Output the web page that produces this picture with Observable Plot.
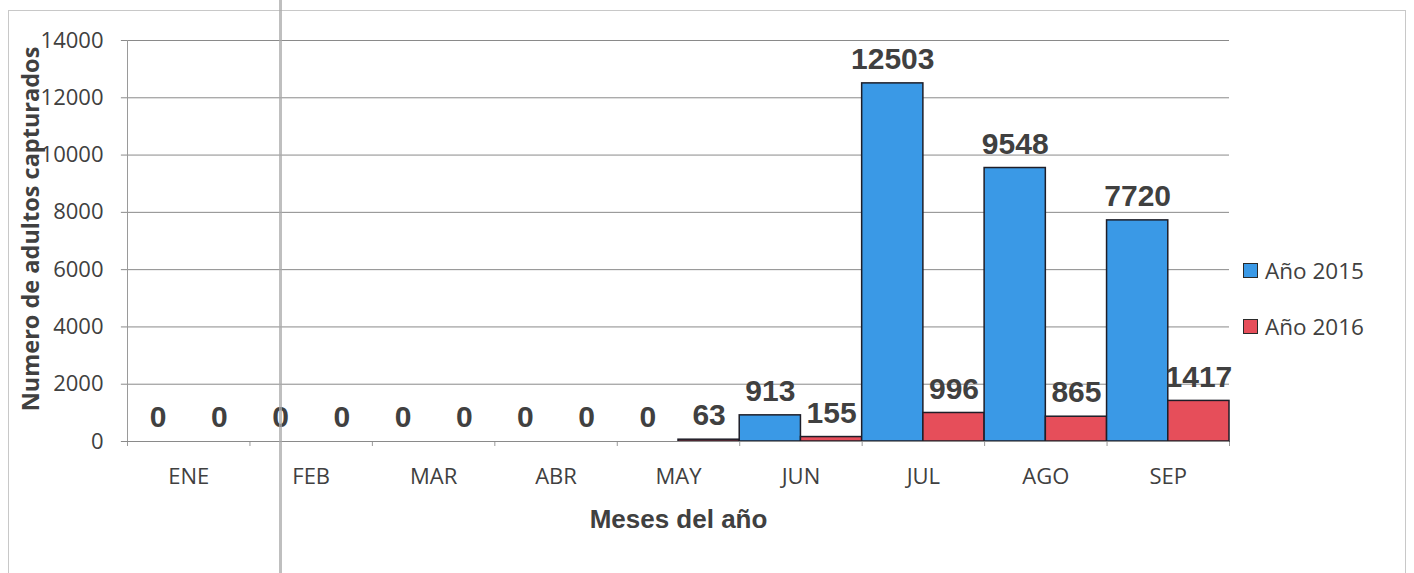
<!DOCTYPE html>
<html>
<head>
<meta charset="utf-8">
<script src="https://cdn.jsdelivr.net/npm/d3@7"></script>
<script src="https://cdn.jsdelivr.net/npm/@observablehq/plot@0.6"></script>
<style>
  html, body { margin: 0; padding: 0; background: #fff; }
  #wrap { position: relative; width: 1414px; height: 573px; overflow: hidden; }
  #frame { position: absolute; left: 8px; top: 10px; width: 1398px; height: 600px; border: 1.5px solid #c8c8c8; box-sizing: border-box; pointer-events: none; }
  #scanline { position: absolute; left: 279px; top: 0; width: 3px; height: 573px; background: #a9a9a9; opacity: 0.75; }
  #legend { position: absolute; left: 1243px; top: 255px; font-family: "Open Sans", sans-serif; font-size: 22.5px; color: #404040; }
  .item { display: flex; align-items: center; height: 30px; margin-bottom: 26px; }
  .sw { width: 13px; height: 13px; border: 1.3px solid #2a2a2a; margin-right: 7px; }
</style>
</head>
<body>
<div id="wrap">
  <div id="chart"></div>
  <div id="frame"></div>
  <div id="scanline"></div>
  <div id="legend"></div>
</div>
<script>
const months = ["ENE", "FEB", "MAR", "ABR", "MAY", "JUN", "JUL", "AGO", "SEP"];
const series = ["Año 2015", "Año 2016"];
const values2015 = [0, 0, 0, 0, 0, 913, 12503, 9548, 7720];
const values2016 = [0, 0, 0, 0, 63, 155, 996, 865, 1417];
const yTicks = [0, 2000, 4000, 6000, 8000, 10000, 12000, 14000];
const colors = ["#3a99e6", "#e64e5a"];

const rows = [];
months.forEach((m, i) => {
  rows.push({month: m, i, s: 0, series: series[0], value: values2015[i]});
  rows.push({month: m, i, s: 1, series: series[1], value: values2016[i]});
});

const chart = Plot.plot({
  width: 1414,
  height: 573,
  marginLeft: 127,
  marginRight: 185,
  marginTop: 40,
  marginBottom: 132,
  style: {background: "transparent"},
  x: {type: "linear", domain: [0, months.length], axis: null},
  y: {domain: [0, 14000], axis: null},
  color: {domain: series, range: colors},
  marks: [
    Plot.ruleY(yTicks, {stroke: "#8a8a8a", strokeWidth: 1, x1: -0.05, x2: months.length}),
    Plot.ruleX([0], {stroke: "#9a9a9a", strokeWidth: 1}),
    Plot.axisY({ticks: yTicks, tickSize: 0, tickPadding: 24, tickFormat: d => String(d),
      fontFamily: "Open Sans", fontSize: 22, color: "#404040", label: null}),
    Plot.axisX({ticks: d3.range(months.length + 1), tickSize: 5, tickFormat: () => "",
      stroke: "#9a9a9a", label: null}),
    Plot.axisX({ticks: months.map((m, i) => i + 0.5), tickSize: 0, tickPadding: 27,
      tickFormat: d => months[Math.floor(d)], fontFamily: "Open Sans", fontSize: 22, color: "#404040", label: null}),
    Plot.rectY(rows, {
      x1: d => d.i + d.s * 0.5,
      x2: d => d.i + d.s * 0.5 + 0.5,
      y: "value",
      fill: "series",
      stroke: "#1e1e28",
      strokeWidth: 1.5
    }),
    Plot.ruleY([0], {stroke: "#8a8a8a", strokeWidth: 1}),
    Plot.text(rows, {
      x: d => d.i + d.s * 0.5 + 0.25,
      y: "value",
      text: d => String(d.value),
      dy: -24,
      fontFamily: "Liberation Sans, Arial, sans-serif",
      fontWeight: "bold",
      fontSize: 30,
      fill: "#404040"
    }),
    Plot.text(["Meses del año"], {
      frameAnchor: "bottom", dy: 86,
      fontFamily: "Liberation Sans, Arial, sans-serif", fontWeight: "bold", fontSize: 26, fill: "#404040"
    }),
    Plot.text(["Numero de adultos capturados"], {
      frameAnchor: "left", textAnchor: "middle", rotate: -90, dx: -96, dy: -12,
      fontFamily: "Open Sans", fontWeight: "bold", fontSize: 23.5, fill: "#404040"
    })
  ]
});
document.getElementById("chart").appendChild(chart);

const legend = document.getElementById("legend");
series.forEach((s, k) => {
  const item = document.createElement("div");
  item.className = "item";
  const sw = document.createElement("div");
  sw.className = "sw";
  sw.style.background = colors[k];
  const label = document.createElement("span");
  label.textContent = s;
  item.appendChild(sw);
  item.appendChild(label);
  legend.appendChild(item);
});
</script>
</body>
</html>
